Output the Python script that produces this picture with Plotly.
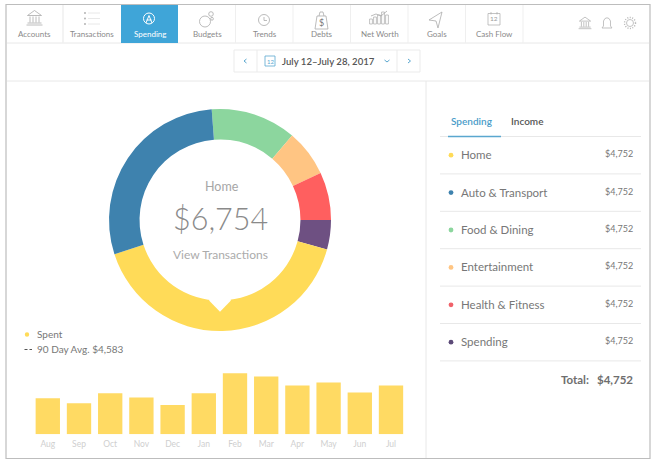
import plotly.graph_objects as go

W, H = 655, 464

# donut, clockwise starting at the green slice (values read as share of the ring)
slice_names = ["Food & Dining", "Entertainment", "Health & Fitness", "Spending", "Home", "Auto & Transport"]
slice_values = [44.8, 24.5, 25.0, 15.4, 146.6, 103.7]
slice_colors = ["#8CD69E", "#FFC583", "#FF5F5F", "#6E5082", "#FFDB58", "#3E82AE"]

# monthly bars
months = ["Aug", "Sep", "Oct", "Nov", "Dec", "Jan", "Feb", "Mar", "Apr", "May", "Jun", "Jul"]
spent = [3600, 3100, 4100, 3670, 2930, 4100, 6100, 5770, 4870, 5170, 4170, 4870]

# right hand list
row_names = ["Home", "Auto & Transport", "Food & Dining", "Entertainment", "Health & Fitness", "Spending"]
row_colors = ["#FFDB58", "#3E82AE", "#8CD69E", "#FFC583", "#F0626A", "#5C4A78"]
row_amounts = ["$4,752"] * 6

tabs = ["Accounts", "Transactions", "Spending", "Budgets", "Trends", "Debts", "Net Worth", "Goals", "Cash Flow"]

FONT = "Lato, 'Open Sans', sans-serif"
GREY_LINE = "#E8E8E8"
ICON = "#ABABAB"
BLUE = "#3FA5D8"


def px(x):
    return x / W


def py(y):
    return 1 - y / H


shapes = []
notes = []


def line(x0, y0, x1, y1, color=GREY_LINE, width=1, dash="solid"):
    shapes.append(dict(type="line", xref="paper", yref="paper", x0=px(x0), y0=py(y0), x1=px(x1), y1=py(y1),
                       line=dict(color=color, width=width, dash=dash)))


def rect(x0, y0, x1, y1, fill="rgba(0,0,0,0)", color=GREY_LINE, width=1):
    shapes.append(dict(type="rect", xref="paper", yref="paper", x0=px(x0), y0=py(y0), x1=px(x1), y1=py(y1),
                       fillcolor=fill, line=dict(color=color, width=width)))


def circle(cx, cy, r, fill="rgba(0,0,0,0)", color=ICON, width=0.8, dash="solid"):
    shapes.append(dict(type="circle", xref="paper", yref="paper", x0=px(cx - r), y0=py(cy + r),
                       x1=px(cx + r), y1=py(cy - r), fillcolor=fill,
                       line=dict(color=color, width=width, dash=dash)))


def poly(points, fill=None, color=ICON, width=0.8, closed=False):
    d = "M" + " L".join(f"{px(x):.5f},{py(y):.5f}" for x, y in points)
    if closed:
        d += " Z"
    shapes.append(dict(type="path", xref="paper", yref="paper", path=d, fillcolor=fill or "rgba(0,0,0,0)",
                       line=dict(color=color, width=width)))


def label(x, y, text, size=10, color="#777777", anchor="center", weight=None):
    f = dict(family=FONT, size=size, color=color)
    if weight:
        f["weight"] = weight
    # Lato sits about a pixel low in its line box
    notes.append(dict(xref="paper", yref="paper", x=px(x), y=py(y - 1), text=text, showarrow=False, xanchor=anchor,
                      yanchor="middle", font=f, borderpad=0, borderwidth=0))


def bank(cx, cy, s=1.0, color=ICON):
    poly([(cx - 7 * s, cy - 3 * s), (cx, cy - 8 * s), (cx + 7 * s, cy - 3 * s)], color=color, closed=True)
    for dx in (-4.5, -1.5, 1.5, 4.5):
        line(cx + dx * s, cy - 2 * s, cx + dx * s, cy + 4 * s, color, 0.8)
    line(cx - 7 * s, cy + 4.5 * s, cx + 7 * s, cy + 4.5 * s, color, 0.8)
    line(cx - 8 * s, cy + 6.5 * s, cx + 8 * s, cy + 6.5 * s, color, 0.8)


# frame and dividers
rect(6, 4.5, 650, 458.5, color="#BDBDBD", width=1.2)
line(7, 43, 649, 43)
line(7, 81, 649, 81)
line(426, 81, 426, 458)

# nav bar
TAB_W = 57.5
rect(121, 5, 178, 43, fill=BLUE, color=BLUE, width=0)
for i, name in enumerate(tabs):
    cx = 34.5 + i * TAB_W
    if i != 2 and i != 1:
        line(63 + i * TAB_W, 5, 63 + i * TAB_W, 43, "#EFEFEF")
    label(cx, 35, name, size=8, color="white" if i == 2 else "#8A8A8A")
line(63, 5, 63, 43, "#EFEFEF")

bank(34.5, 18.5)
# transactions
for yy in (13, 18.5, 24):
    circle(85, yy, 0.9, fill=ICON, width=0)
    line(88, yy, 100, yy)
# spending
circle(149, 18.5, 5.5, color="white", width=1)
poly([(146, 23), (149, 15.5), (152, 23)], color="white", width=1)
line(146.5, 20, 151.5, 20, "white", 1)
# budgets
circle(205, 21.5, 5.5)
circle(211, 14, 2.3)
circle(212, 18.8, 1.4)
# trends
circle(264, 20, 5.5)
poly([(264, 17), (264, 20.5), (267, 20.5)])
# debts
poly([(317, 16), (326, 16), (328, 29), (315, 29)], closed=True)
poly([(319, 16), (320, 12), (323, 12), (324, 16)])
label(321.5, 23, "$", size=9, color="#777777")
# net worth
for bx, bh in ((371, 5), (375, 7), (379, 9), (383, 12), (387, 9)):
    rect(bx - 1.4, 24 - bh, bx + 1.4, 24, color=ICON, width=0.7)
poly([(371, 16), (376, 14), (381, 16), (387, 11)])
# goals
poly([(442, 12), (429, 20), (436, 21), (438, 28)], closed=True)
# cash flow
rect(488, 13.5, 500, 25, color=ICON, width=0.7)
line(491, 12, 491, 14.5, ICON, 0.7)
line(497, 12, 497, 14.5, ICON, 0.7)
label(494, 20, "12", size=6.5, color="#999999")
# top right icons
bank(585, 23.5, 0.8, "#B4B4B4")
poly([(602, 28), (603.5, 26), (603.5, 21), (605, 18.5), (607, 17.8), (609, 18.5), (610.5, 21), (610.5, 26),
      (612, 28)], color="#B4B4B4", closed=True)
circle(630, 23, 3.5, color="#B4B4B4")
circle(630, 23, 5.5, color="#B4B4B4", width=1.4, dash="1px,1.5px")

# date picker
rect(234, 50, 420, 72, color="#EBEBEB")
line(257, 50, 257, 72, "#EBEBEB")
line(397, 50, 397, 72, "#EBEBEB")
poly([(246.5, 59), (244, 61), (246.5, 63)], color="#5AA7CF", width=1)
poly([(408, 59), (410.5, 61), (408, 63)], color="#5AA7CF", width=1)
rect(265, 56, 275, 66, color="#5AA7CF", width=0.8)
label(270, 62, "12", size=6, color="#5AA7CF")
label(282, 62, "July 12–July 28, 2017", size=9.6, color="#555555", anchor="left", weight=600)
poly([(384.5, 60), (387, 62), (389.5, 60)], color="#5AA7CF", width=1)

# notch cut into the ring
poly([(209.3, 298.5), (209.3, 300.8), (220, 311.7), (230.7, 300.8), (230.7, 298.5)], fill="white", color="white",
     width=0, closed=True)

# donut centre
label(222, 187.5, "Home", size=12.5, color="#A6A6A6")
label(220, 219, "$6,754", size=30.5, color="#8A8A8A", weight=300)
label(220.5, 255, "View Transactions", size=12, color="#ABABAB")

# bar legend
circle(27, 334.5, 2.2, fill="#FFDB58", width=0)
label(37, 334.5, "Spent", size=10, color="#777777", anchor="left")
line(24.5, 349.5, 32, 349.5, "#555555", 1, "3px,2px")
label(37, 349.5, "90 Day Avg. $4,583", size=10, color="#777777", anchor="left")

# right panel tabs
label(451, 122, "Spending", size=10, color="#4A9CC9", anchor="left", weight=600)
label(511, 122, "Income", size=10, color="#555555", anchor="left", weight=600)
line(440, 136.5, 641, 136.5)
line(448, 136.5, 501, 136.5, "#5AA7CF", 1.4)

# right panel rows
ROW_TOP = 136.5
ROW_H = 37.4
for i, (name, c, amt) in enumerate(zip(row_names, row_colors, row_amounts)):
    mid = ROW_TOP + ROW_H * i + 18.7
    circle(451, mid, 2.4, fill=c, width=0)
    label(461, mid + 0.5, name, size=11.5, color="#777777", anchor="left")
    label(632.5, mid - 0.5, amt, size=9, color="#777777", anchor="right")
    line(440, ROW_TOP + ROW_H * (i + 1), 641, ROW_TOP + ROW_H * (i + 1))
label(561, 380, "Total:", size=11.5, color="#6E6E6E", anchor="left", weight=700)
label(632.5, 380, "$4,752", size=11.5, color="#6E6E6E", anchor="right", weight=700)

fig = go.Figure()
fig.add_trace(go.Pie(labels=slice_names, values=slice_values, hole=0.725, sort=False, direction="clockwise",
                     rotation=-4.3, marker=dict(colors=slice_colors, line=dict(width=0)), textinfo="none",
                     showlegend=False, hoverinfo="label",
                     domain=dict(x=[px(109), px(331)], y=[py(331), py(109)])))
fig.add_trace(go.Bar(x=months, y=spent, marker=dict(color="#FFDA63", line=dict(width=0)), showlegend=False,
                     hoverinfo="x+y"))

fig.update_layout(
    width=W, height=H, margin=dict(l=0, r=0, t=0, b=0), paper_bgcolor="white", plot_bgcolor="white",
    bargap=0.22, shapes=shapes, annotations=notes, font=dict(family=FONT),
    xaxis=dict(domain=[px(32.2), px(406.6)], range=[-0.5, 11.5], type="category", showgrid=False, showline=False,
               zeroline=False, ticks="", ticklabelstandoff=3,
               tickfont=dict(size=8.5, color="#CFCFCF", family=FONT)),
    yaxis=dict(domain=[py(434.3), py(364.3)], range=[0, 7000], visible=False),
)

fig.write_html("out.html", post_script="document.body.style.margin='0';document.body.style.overflow='hidden';",
               config=dict(displayModeBar=False))
